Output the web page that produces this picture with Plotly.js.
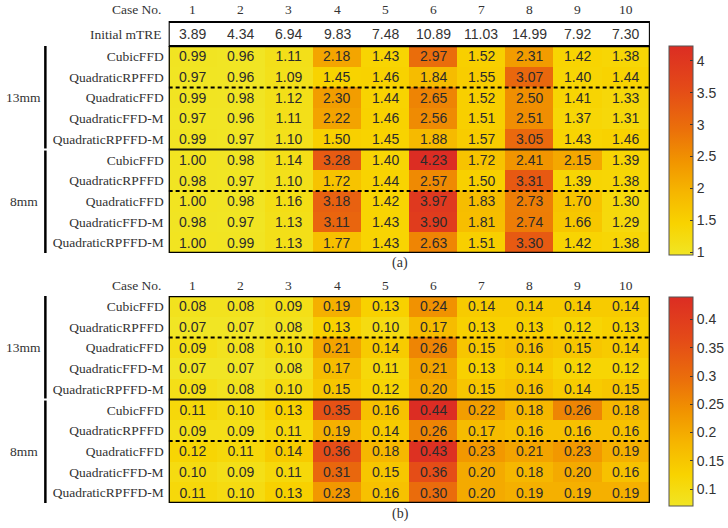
<!DOCTYPE html>
<html>
<head>
<meta charset="utf-8">
<script src="https://cdn.plot.ly/plotly-3.0.1.min.js"></script>
<style>html,body{margin:0;padding:0;background:#fff;}#chart{width:728px;height:528px;}</style>
</head>
<body>
<div id="chart"></div>
<script>
// ---------- data ----------
const caseNumbers = [1, 2, 3, 4, 5, 6, 7, 8, 9, 10];
const methods = ["CubicFFD", "QuadraticRPFFD", "QuadraticFFD", "QuadraticFFD-M", "QuadraticRPFFD-M"];
const groups = ["13mm", "8mm"];
const rowLabels = methods.concat(methods);
const initialMTRE = [3.89, 4.34, 6.94, 9.83, 7.48, 10.89, 11.03, 14.99, 7.92, 7.30];

const panelA_13mm = [
  [0.99, 0.96, 1.11, 2.18, 1.43, 2.97, 1.52, 2.31, 1.42, 1.38],
  [0.97, 0.96, 1.09, 1.45, 1.46, 1.84, 1.55, 3.07, 1.40, 1.44],
  [0.99, 0.98, 1.12, 2.30, 1.44, 2.65, 1.52, 2.50, 1.41, 1.33],
  [0.97, 0.96, 1.11, 2.22, 1.46, 2.56, 1.51, 2.51, 1.37, 1.31],
  [0.99, 0.97, 1.10, 1.50, 1.45, 1.88, 1.57, 3.05, 1.43, 1.46]
];
const panelA_8mm = [
  [1.00, 0.98, 1.14, 3.28, 1.40, 4.23, 1.72, 2.41, 2.15, 1.39],
  [0.98, 0.97, 1.10, 1.72, 1.44, 2.57, 1.50, 3.31, 1.39, 1.38],
  [1.00, 0.98, 1.16, 3.18, 1.42, 3.97, 1.83, 2.73, 1.70, 1.30],
  [0.98, 0.97, 1.13, 3.11, 1.43, 3.90, 1.81, 2.74, 1.66, 1.29],
  [1.00, 0.99, 1.13, 1.77, 1.43, 2.63, 1.51, 3.30, 1.42, 1.38]
];
const panelB_13mm = [
  [0.08, 0.08, 0.09, 0.19, 0.13, 0.24, 0.14, 0.14, 0.14, 0.14],
  [0.07, 0.07, 0.08, 0.13, 0.10, 0.17, 0.13, 0.13, 0.12, 0.13],
  [0.09, 0.08, 0.10, 0.21, 0.14, 0.26, 0.15, 0.16, 0.15, 0.14],
  [0.07, 0.07, 0.08, 0.17, 0.11, 0.21, 0.13, 0.14, 0.12, 0.12],
  [0.09, 0.08, 0.10, 0.15, 0.12, 0.20, 0.15, 0.16, 0.14, 0.15]
];
const panelB_8mm = [
  [0.11, 0.10, 0.13, 0.35, 0.16, 0.44, 0.22, 0.18, 0.26, 0.18],
  [0.09, 0.09, 0.11, 0.19, 0.14, 0.26, 0.17, 0.16, 0.16, 0.16],
  [0.12, 0.11, 0.14, 0.36, 0.18, 0.43, 0.23, 0.21, 0.23, 0.19],
  [0.10, 0.09, 0.11, 0.31, 0.15, 0.36, 0.20, 0.18, 0.20, 0.16],
  [0.11, 0.10, 0.13, 0.23, 0.16, 0.30, 0.20, 0.19, 0.19, 0.19]
];
const ticksA = [1, 1.5, 2, 2.5, 3, 3.5, 4];
const ticksB = [0.1, 0.15, 0.2, 0.25, 0.3, 0.35, 0.4];

// ---------- layout helpers ----------
const W = 728, H = 528;
const px = v => v / W;
const py = v => 1 - v / H;
const serif = "Liberation Serif";
const sans = "Liberation Sans";
const txt = "#333";

const colorscale = [
  [0.0, "rgb(241,229,36)"],
  [0.15, "rgb(248,211,0)"],
  [0.3, "rgb(246,182,0)"],
  [0.45, "rgb(241,148,0)"],
  [0.6, "rgb(235,112,10)"],
  [0.8, "rgb(228,74,24)"],
  [1.0, "rgb(220,45,35)"]
];

const rowIdx = rowLabels.map((_, i) => i);
const colIdx = caseNumbers.map((_, i) => i);

function heat(z, xa, ya, cbTop, tickvals) {
  return {
    type: "heatmap", z: z, x: colIdx, y: rowIdx, xaxis: xa, yaxis: ya,
    colorscale: colorscale, hoverinfo: "skip",
    texttemplate: "%{z:.2f}",
    textfont: {family: sans, size: 14, color: "#2b2b2b"},
    colorbar: {
      x: px(678), xanchor: "left", xpad: 0, ypad: 0,
      y: py(cbTop), yanchor: "top", len: 209, lenmode: "pixels",
      thickness: 24, outlinewidth: 1, outlinecolor: "#555",
      ticks: "inside", ticklen: 3, tickcolor: "#333",
      tickvals: tickvals, ticktext: tickvals.map(String),
      tickfont: {family: sans, size: 14, color: txt}
    }
  };
}

const zA = panelA_13mm.concat(panelA_8mm);
const zB = panelB_13mm.concat(panelB_8mm);

const data = [heat(zA, "x", "y", 46, ticksA), heat(zB, "x2", "y2", 297, ticksB)];

function xax(anchor) {
  return {domain: [px(171), px(659)], range: [-0.5, 9.5], anchor: anchor,
          showticklabels: false, showgrid: false, zeroline: false, showline: false, ticks: ""};
}
function yax(dom, anchor) {
  return {domain: dom, range: [9.5, -0.5], anchor: anchor,
          tickvals: rowIdx, ticktext: rowLabels, ticks: "", ticklabelstandoff: 4,
          tickfont: {family: serif, size: 13.5, color: txt},
          showgrid: false, zeroline: false, showline: false};
}

const shapes = [];
const annotations = [];
function note(o) {
  annotations.push(Object.assign({showarrow: false, xanchor: "center", yanchor: "middle"}, o));
}

function panelDecor(xr, yr, caseY, label, labelY) {
  shapes.push({type: "rect", xref: xr, yref: yr, x0: -0.5, x1: 9.5, y0: -0.5, y1: 9.5,
               line: {color: "#000", width: 2.5}});
  shapes.push({type: "line", xref: xr, yref: yr, x0: -0.5, x1: 9.5, y0: 4.5, y1: 4.5,
               line: {color: "#111", width: 2.2}});
  [1.5, 6.5].forEach(v => shapes.push({type: "line", xref: xr, yref: yr, x0: -0.5, x1: 9.5, y0: v, y1: v,
               line: {color: "#000", width: 2, dash: "4px,3px"}}));
  shapes.push({type: "line", xref: "paper", yref: yr, x0: px(46), x1: px(46), y0: -0.65, y1: 4.45,
               line: {color: "#000", width: 2.5}});
  shapes.push({type: "line", xref: "paper", yref: yr, x0: px(46), x1: px(46), y0: 4.55, y1: 9.5,
               line: {color: "#000", width: 2.5}});
  groups.forEach((g, gi) => note({xref: "paper", yref: yr, x: px(24), y: gi * 5 + 2,
               text: g, font: {family: serif, size: 13.5, color: txt}}));
  note({xref: "paper", yref: "paper", x: px(166), y: py(caseY), xanchor: "right",
        text: "Case No.", font: {family: serif, size: 13.5, color: txt}});
  caseNumbers.forEach((c, i) => note({xref: xr, yref: "paper", x: i, y: py(caseY),
        text: String(c), font: {family: serif, size: 13.5, color: txt}}));
  note({xref: "paper", yref: "paper", x: px(406), y: py(labelY),
        text: label, font: {family: serif, size: 14, color: txt}});
}

panelDecor("x", "y", 9, "(a)", 263);
panelDecor("x2", "y2", 285, "(b)", 514);

shapes.push({type: "rect", xref: "x", yref: "paper", x0: -0.5, x1: 9.5, y0: py(46), y1: py(22),
             line: {color: "#000", width: 2.2}, fillcolor: "rgba(0,0,0,0)"});
note({xref: "paper", yref: "paper", x: px(166), y: py(34), xanchor: "right",
      text: "Initial mTRE", font: {family: serif, size: 13.5, color: txt}});
initialMTRE.forEach((v, i) => note({xref: "x", yref: "paper", x: i, y: py(34),
      text: v.toFixed(2), font: {family: sans, size: 14, color: txt}}));

const layout = {
  width: W, height: H, margin: {l: 0, r: 0, t: 0, b: 0},
  paper_bgcolor: "#fff", plot_bgcolor: "#fff", showlegend: false,
  xaxis: xax("y"), yaxis: yax([py(253), py(46)], "x"),
  xaxis2: xax("y2"), yaxis2: yax([py(503), py(296)], "x2"),
  shapes: shapes, annotations: annotations
};

Plotly.newPlot("chart", data, layout, {displayModeBar: false, staticPlot: true});
</script>
</body>
</html>
